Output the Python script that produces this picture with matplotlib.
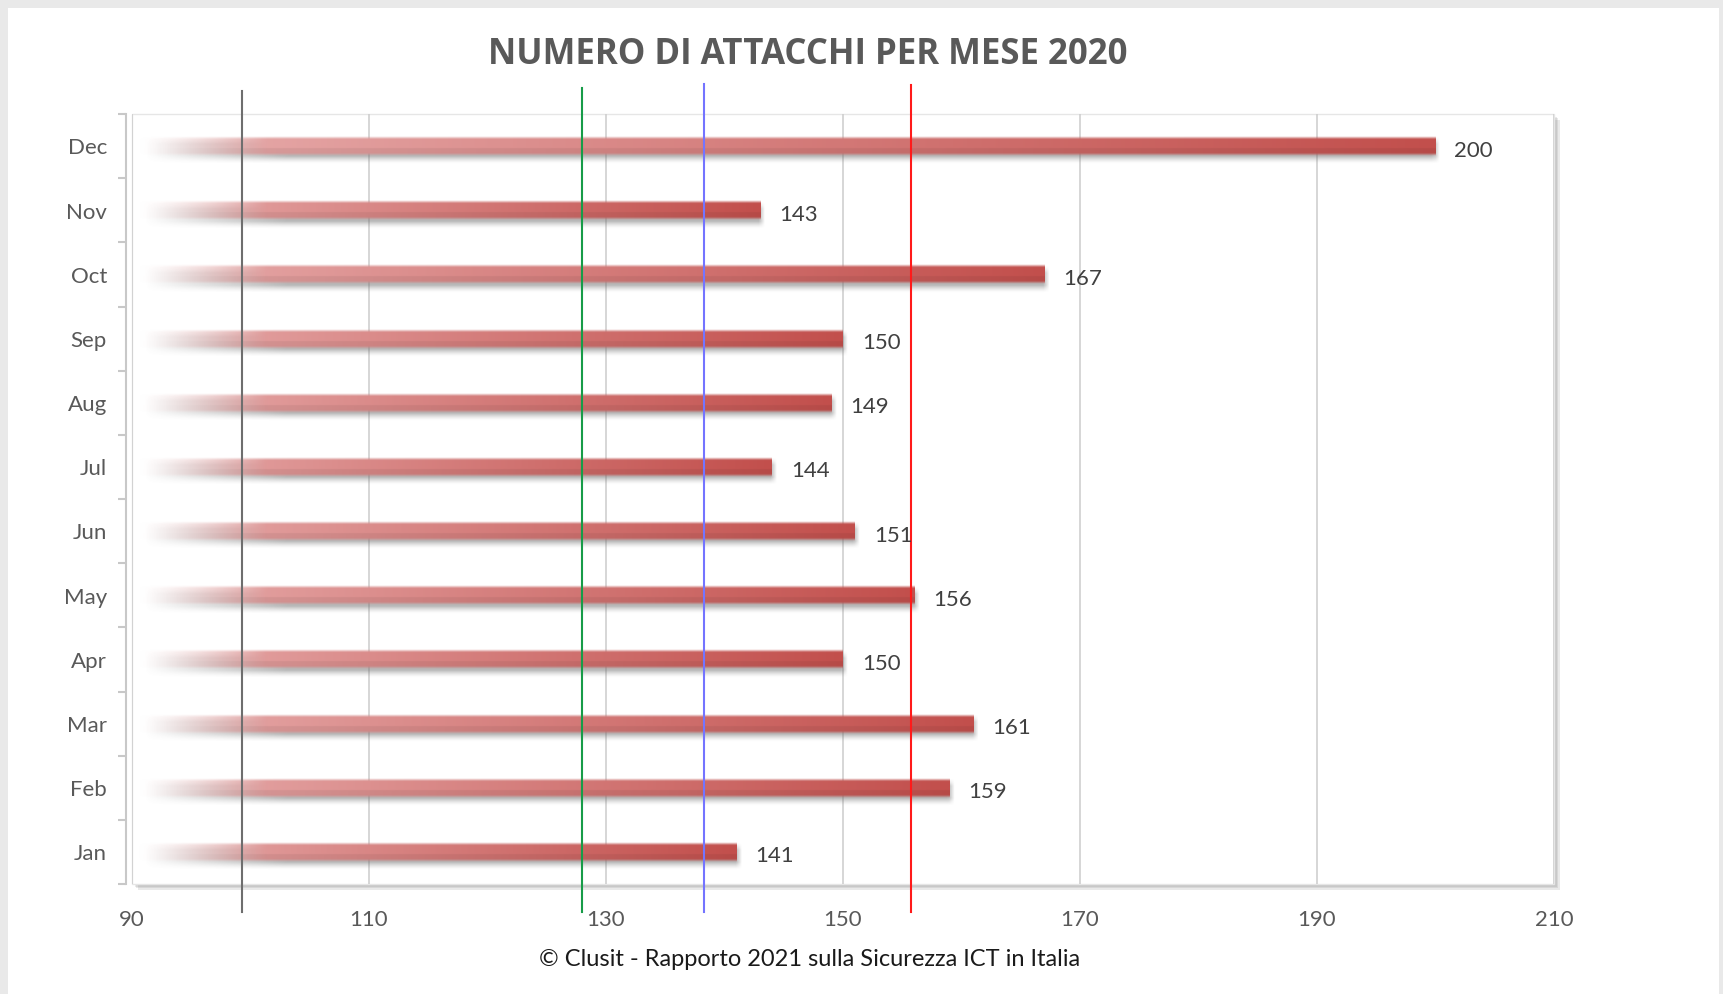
import numpy as np
import matplotlib
matplotlib.use("Agg")
import matplotlib.pyplot as plt
from matplotlib import patheffects
from matplotlib.patches import Rectangle
from matplotlib.colors import to_rgb

plt.rcParams["font.family"] = ["Lato", "DejaVu Sans"]

# monthly attack counts, 2020
months = ["Jan", "Feb", "Mar", "Apr", "May", "Jun",
          "Jul", "Aug", "Sep", "Oct", "Nov", "Dec"]
attacks = [141, 159, 161, 150, 156, 151, 144, 149, 150, 167, 143, 200]

# reference levels drawn as vertical lines
ref_values = [99.3, 128.0, 138.3, 155.7]
ref_colors = ["#6e6e6e", "#179c48", "#7474ff", "#ff1a1a"]
ref_tops = [1.030, 1.034, 1.039, 1.038]

x_ticks = [90, 110, 130, 150, 170, 190, 210]

title = "NUMERO DI ATTACCHI PER MESE 2020"
footer = "\u00a9 Clusit - Rapporto 2021 sulla Sicurezza ICT in Italia"

TXT = "#595959"
LIGHT = np.array(to_rgb("#e9b0b0"))
DARK = np.array(to_rgb("#c24f4c"))
X0 = 90
HALF = 0.155

fig = plt.figure(figsize=(17.23, 9.94), dpi=100, facecolor="#e9e9e9")
fig.patches.append(Rectangle((8 / 1723, 0), 1711 / 1723, 1 - 8 / 994,
                             transform=fig.transFigure, facecolor="white",
                             edgecolor="none", zorder=-10))

ax = fig.add_axes([0.0766, 0.1107, 0.8253, 0.7745])
ax.set_facecolor("none")

# plot frame with a soft drop shadow
frame = Rectangle((0, 0), 1, 1, transform=ax.transAxes, facecolor="white",
                  edgecolor="#e6e6e6", linewidth=1, zorder=0, clip_on=False,
                  path_effects=[patheffects.SimplePatchShadow(offset=(o, -o), shadow_rgbFace="#7a7a7a", alpha=0.16)
                                for o in (1, 2, 3, 4)] + [patheffects.Normal()])
ax.add_patch(frame)


def bar_rgba(value):
    xs = np.linspace(0, 1, 400)
    ys = np.linspace(-1, 1, 48)
    xv = X0 + xs * (value - X0)
    rgb = LIGHT[None, :] + (DARK - LIGHT)[None, :] * xs[:, None] ** 0.9
    img = np.zeros((len(ys), len(xs), 4))
    shade = 1 - 0.06 * (ys[:, None] < -0.2)
    img[..., :3] = np.clip(rgb[None, :, :] * shade[..., None], 0, 1)
    fade = np.clip((xv - 90.3) / 11, 0, 1) ** 1.5
    edge = np.clip((1 - np.abs(ys)) / 0.3, 0, 1)
    img[..., 3] = edge[:, None] * fade[None, :]
    return img


def shadow_rgba(value):
    xs = np.linspace(0, 1, 300)
    ys = np.linspace(-1, 1, 40)
    xv = X0 + xs * (value + 0.5 - X0)
    img = np.zeros((len(ys), len(xs), 4))
    img[..., :3] = 0.45
    fade = np.clip((xv - 91) / 12, 0, 1) * np.clip((value + 0.5 - xv) / 0.5, 0, 1)
    edge = np.clip((1 - np.abs(ys)) / 0.55, 0, 1) ** 1.5
    img[..., 3] = 0.5 * edge[:, None] * fade[None, :]
    return img


for i, v in enumerate(attacks):
    ax.imshow(shadow_rgba(v), extent=(X0, v + 0.5, i - HALF - 0.13, i + HALF - 0.01),
              origin="lower", aspect="auto", interpolation="bilinear", zorder=2)
    ax.imshow(bar_rgba(v), extent=(X0, v, i - HALF, i + HALF),
              origin="lower", aspect="auto", interpolation="bilinear", zorder=3)
    ax.text(v + 1.6, i - 0.07, str(v), ha="left", va="center", fontsize=16,
            color="#404040", zorder=6)

for v, c, top in zip(ref_values, ref_colors, ref_tops):
    ax.plot([v, v], [-0.036, top], color=c, linewidth=1.5,
            transform=ax.get_xaxis_transform(), clip_on=False, zorder=5)

ax.set_xlim(x_ticks[0], x_ticks[-1])
ax.set_ylim(-0.5, len(months) - 0.5)

ax.set_xticks(x_ticks)
ax.set_xticklabels([str(t) for t in x_ticks], fontsize=16, color=TXT)
ax.tick_params(axis="x", length=0, pad=19)
ax.grid(axis="x", color="#cfcfcf", linewidth=1.2, zorder=1)
ax.set_axisbelow(True)

# boundary ticks on the category axis, month names centred between them
ax.set_yticks(np.arange(-0.5, len(months), 1))
ax.set_yticklabels([])
ax.tick_params(axis="y", length=6, width=1.5, color="#c8c8c8")
for i, m in enumerate(months):
    ax.text(-0.0176, i - 0.035, m, ha="right", va="center", fontsize=16, color=TXT,
            transform=ax.get_yaxis_transform())

for side in ("top", "right", "bottom"):
    ax.spines[side].set_visible(False)
ax.spines["left"].set_position(("outward", 4))
ax.spines["left"].set_color("#c8c8c8")
ax.spines["left"].set_linewidth(1.5)

fig.text(0.469, 0.9445, title, ha="center", va="center", fontsize=25,
         fontweight="bold", color=TXT, family="Open Sans")
fig.text(0.470, 0.0352, footer, ha="center", va="center", fontsize=17,
         color="#1a1a1a")

fig.savefig("out.png", dpi=100, facecolor=fig.get_facecolor())
